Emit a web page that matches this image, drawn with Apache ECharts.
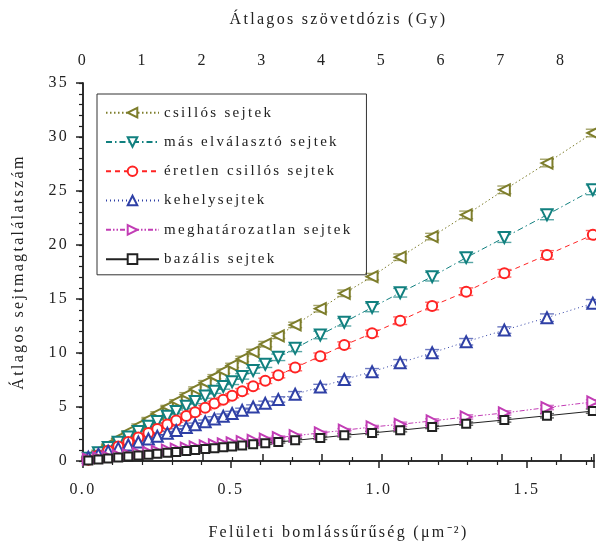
<!DOCTYPE html>
<html>
<head>
<meta charset="utf-8">
<script src="https://cdn.jsdelivr.net/npm/echarts@6/dist/echarts.min.js"></script>
<style>
  html, body { margin: 0; padding: 0; background: #fff; }
  #main { width: 596px; height: 542px; }
</style>
</head>
<body>
<div id="main"></div>
<script>
// felületi bomlássűrűség (µm^-2), shared by all series
var xValues = [0.018, 0.052, 0.085, 0.119, 0.153, 0.187, 0.221, 0.251, 0.285, 0.315, 0.349, 0.379, 0.413, 0.444, 0.474, 0.504, 0.538, 0.575, 0.616, 0.66, 0.717, 0.802, 0.883, 0.977, 1.072, 1.18, 1.295, 1.424, 1.568, 1.723];

// átlagos sejtmagtalálatszám
var csillos       = [0.32, 0.91, 1.49, 2.09, 2.69, 3.28, 3.88, 4.41, 5.0, 5.53, 6.13, 6.66, 7.25, 7.8, 8.32, 8.85, 9.45, 10.1, 10.82, 11.59, 12.6, 14.1, 15.53, 17.07, 18.87, 20.78, 22.79, 25.11, 27.59, 30.37];
var masElvalaszto = [0.26, 0.76, 1.24, 1.73, 2.23, 2.72, 3.22, 3.65, 4.15, 4.58, 5.08, 5.51, 6.01, 6.46, 6.9, 7.33, 7.83, 8.37, 8.96, 9.6, 10.43, 11.67, 12.85, 14.22, 15.58, 17.07, 18.83, 20.69, 22.79, 25.11];
var eretlen       = [0.12, 0.53, 0.94, 1.35, 1.77, 2.18, 2.6, 2.96, 3.38, 3.74, 4.16, 4.52, 4.94, 5.32, 5.68, 6.05, 6.46, 6.92, 7.42, 7.95, 8.65, 9.7, 10.73, 11.82, 12.99, 14.35, 15.68, 17.38, 19.08, 20.94];
var kehely        = [0.35, 0.63, 0.91, 1.19, 1.48, 1.76, 2.04, 2.29, 2.58, 2.83, 3.11, 3.36, 3.64, 3.9, 4.15, 4.4, 4.69, 5.0, 5.34, 5.7, 6.18, 6.85, 7.55, 8.26, 9.09, 10.02, 11.04, 12.12, 13.27, 14.6];
var meghat        = [0.18, 0.28, 0.38, 0.49, 0.59, 0.7, 0.81, 0.9, 1.0, 1.1, 1.2, 1.3, 1.4, 1.5, 1.59, 1.68, 1.79, 1.9, 2.03, 2.17, 2.34, 2.6, 2.85, 3.15, 3.4, 3.71, 4.08, 4.45, 4.95, 5.47];
var bazalis       = [0.05, 0.14, 0.23, 0.32, 0.41, 0.5, 0.59, 0.67, 0.76, 0.84, 0.93, 1.01, 1.1, 1.19, 1.27, 1.35, 1.44, 1.54, 1.64, 1.76, 1.91, 2.14, 2.38, 2.6, 2.85, 3.15, 3.46, 3.8, 4.19, 4.62];

// hibák (±)
var csillosErr       = [0.1, 0.1, 0.1, 0.1, 0.1, 0.15, 0.15, 0.15, 0.15, 0.15, 0.2, 0.2, 0.2, 0.2, 0.2, 0.2, 0.25, 0.25, 0.25, 0.25, 0.25, 0.3, 0.3, 0.3, 0.3, 0.3, 0.35, 0.35, 0.35, 0.35];
var masElvalasztoErr = [0.1, 0.1, 0.1, 0.1, 0.1, 0.15, 0.15, 0.15, 0.15, 0.15, 0.2, 0.2, 0.2, 0.2, 0.25, 0.25, 0.25, 0.25, 0.3, 0.3, 0.3, 0.35, 0.35, 0.4, 0.4, 0.4, 0.45, 0.45, 0.45, 0.45];
var eretlenErr       = [0.1, 0.1, 0.1, 0.1, 0.1, 0.1, 0.15, 0.15, 0.15, 0.15, 0.15, 0.2, 0.2, 0.2, 0.2, 0.2, 0.25, 0.25, 0.25, 0.25, 0.3, 0.3, 0.3, 0.3, 0.35, 0.35, 0.35, 0.35, 0.4, 0.4];
var kehelyErr        = [0.1, 0.1, 0.1, 0.1, 0.1, 0.1, 0.1, 0.15, 0.15, 0.15, 0.15, 0.15, 0.15, 0.2, 0.2, 0.2, 0.2, 0.2, 0.2, 0.25, 0.25, 0.25, 0.25, 0.3, 0.3, 0.3, 0.3, 0.3, 0.35, 0.35];
var meghatErr        = [0.05, 0.05, 0.05, 0.05, 0.05, 0.05, 0.05, 0.1, 0.1, 0.1, 0.1, 0.1, 0.1, 0.1, 0.1, 0.1, 0.1, 0.15, 0.15, 0.15, 0.15, 0.15, 0.15, 0.15, 0.2, 0.2, 0.2, 0.2, 0.2, 0.2];
var bazalisErr       = [0.05, 0.05, 0.05, 0.05, 0.05, 0.05, 0.05, 0.05, 0.1, 0.1, 0.1, 0.1, 0.1, 0.1, 0.1, 0.1, 0.1, 0.1, 0.1, 0.1, 0.15, 0.15, 0.15, 0.15, 0.15, 0.15, 0.15, 0.2, 0.2, 0.2];

var seriesNames = ["csillós sejtek", "más elválasztó sejtek", "éretlen csillós sejtek", "kehelysejtek", "meghatározatlan sejtek", "bazális sejtek"];

// the original figure uses loosely spaced lettering
var spacing = "2.3px";
var origFill = CanvasRenderingContext2D.prototype.fillText;
var origMeasure = CanvasRenderingContext2D.prototype.measureText;
CanvasRenderingContext2D.prototype.fillText = function () {
  this.letterSpacing = spacing;
  return origFill.apply(this, arguments);
};
CanvasRenderingContext2D.prototype.measureText = function () {
  this.letterSpacing = spacing;
  return origMeasure.apply(this, arguments);
};

function pairs(ys) {
  return ys.map(function (y, i) { return [xValues[i], y]; });
}

var fontFamily = "Liberation Serif";
var textColor = "#222";

var chartDom = document.getElementById("main");
var myChart = echarts.init(chartDom, null, { renderer: "canvas" });

function lineSeries(name, data, color, lineType, symbol, rotate, size) {
  return {
    name: name,
    type: "line",
    z: 3,
    data: pairs(data),
    symbol: symbol,
    symbolSize: size,
    symbolRotate: rotate,
    showAllSymbol: true,
    animation: false,
    lineStyle: { color: color, width: 1, type: lineType },
    itemStyle: { color: color, borderColor: color, borderWidth: 2 },
  };
}

// vertical error bars with caps
function errorSeries(name, data, errs, color) {
  return {
    name: name + " (hiba)",
    type: "custom",
    z: 2,
    animation: false,
    encode: { x: 0, y: 1 },
    data: data.map(function (y, i) { return [xValues[i], y, errs[i]]; }),
    renderItem: function (params, api) {
      var x = api.value(0), y = api.value(1), e = api.value(2);
      var top = api.coord([x, y + e]);
      var bottom = api.coord([x, y - e]);
      var w = 7;
      var style = { stroke: color, lineWidth: 1.4, opacity: 0.7 };
      return {
        type: "group",
        children: [
          { type: "line", shape: { x1: top[0], y1: top[1], x2: bottom[0], y2: bottom[1] }, style: style },
          { type: "line", shape: { x1: top[0] - w, y1: top[1], x2: top[0] + w, y2: top[1] }, style: style },
          { type: "line", shape: { x1: bottom[0] - w, y1: bottom[1], x2: bottom[0] + w, y2: bottom[1] }, style: style },
        ],
      };
    },
  };
}

var colors = ["#7d7d2b", "#11807f", "#ff2323", "#2f40a6", "#c23db5", "#222222"];

var series = [
  errorSeries(seriesNames[0], csillos, csillosErr, colors[0]),
  errorSeries(seriesNames[1], masElvalaszto, masElvalasztoErr, colors[1]),
  errorSeries(seriesNames[2], eretlen, eretlenErr, colors[2]),
  errorSeries(seriesNames[3], kehely, kehelyErr, colors[3]),
  errorSeries(seriesNames[4], meghat, meghatErr, colors[4]),
  errorSeries(seriesNames[5], bazalis, bazalisErr, colors[5]),
  lineSeries(seriesNames[0], csillos, colors[0], [1.5, 2.5], "emptyTriangle", 90, 11),
  lineSeries(seriesNames[1], masElvalaszto, colors[1], [6, 3, 1.5, 3], "emptyTriangle", 180, 11),
  lineSeries(seriesNames[2], eretlen, colors[2], [5, 4], "emptyCircle", 0, 10),
  lineSeries(seriesNames[3], kehely, colors[3], [1, 3], "emptyTriangle", 0, 11),
  lineSeries(seriesNames[4], meghat, colors[4], [5, 2, 1.5, 2, 1.5, 2], "emptyTriangle", -90, 11),
  lineSeries(seriesNames[5], bazalis, colors[5], "solid", "emptyRect", 0, 8),
];

var labelStyle = { fontFamily: fontFamily, fontSize: 16, color: textColor };
var nameStyle = { fontFamily: fontFamily, fontSize: 16, color: textColor };

var option = {
  backgroundColor: "#fff",
  animation: false,
  grid: { left: 83, right: 2, top: 83, bottom: 81, outerBoundsMode: "none", containLabel: false },
  legend: {
    data: seriesNames,
    orient: "vertical",
    left: 97,
    top: 94,
    itemWidth: 53,
    itemHeight: 12,
    itemGap: 12,
    padding: [10, 14, 7, 8],
    borderColor: "#333",
    borderWidth: 1,
    textStyle: { fontFamily: fontFamily, fontSize: 15, color: textColor },
  },
  xAxis: [
    {
      type: "value",
      position: "bottom",
      min: 0,
      max: 1.727,
      interval: 0.5,
      name: "Felületi bomlássűrűség (μm⁻²)",
      nameLocation: "middle",
      nameGap: 63,
      nameTextStyle: nameStyle,
      splitLine: { show: false },
      axisLine: { lineStyle: { color: "#222", width: 1.5 } },
      axisTick: { length: 7, lineStyle: { color: "#222", width: 1.5 } },
      minorTick: { show: true, splitNumber: 5, length: 4, lineStyle: { color: "#222", width: 1.2 } },
      axisLabel: Object.assign({ margin: 20, showMaxLabel: false, formatter: function (v) { return v.toFixed(1); } }, labelStyle),
    },
    {
      type: "value",
      position: "top",
      min: 0,
      max: 8.55,
      interval: 1,
      name: "Átlagos szövetdózis (Gy)",
      nameLocation: "middle",
      nameGap: 54,
      nameTextStyle: nameStyle,
      splitLine: { show: false },
      axisLine: { lineStyle: { color: "#222", width: 1.5 } },
      axisTick: { length: 7, lineStyle: { color: "#222", width: 1.5 } },
      minorTick: { show: true, splitNumber: 2, length: 4, lineStyle: { color: "#222", width: 1.2 } },
      axisLabel: Object.assign({ margin: 13, showMaxLabel: false }, labelStyle),
    },
  ],
  yAxis: [
    {
      type: "value",
      position: "left",
      min: 0,
      max: 35,
      interval: 5,
      name: "Átlagos sejtmagtalálatszám",
      nameLocation: "middle",
      nameGap: 55,
      nameTextStyle: nameStyle,
      splitLine: { show: false },
      axisLine: { show: true, lineStyle: { color: "#222", width: 1.5 } },
      axisTick: { show: true, length: 7, lineStyle: { color: "#222", width: 1.5 } },
      minorTick: { show: true, splitNumber: 5, length: 4, lineStyle: { color: "#222", width: 1.2 } },
      axisLabel: Object.assign({ margin: 14 }, labelStyle),
    },
    {
      type: "value",
      position: "right",
      min: 0,
      max: 35,
      interval: 5,
      splitLine: { show: false },
      axisLine: { show: true, lineStyle: { color: "#222", width: 1.5 } },
      axisTick: { show: true, inside: true, length: 4, lineStyle: { color: "#222", width: 1.2 } },
      minorTick: { show: true, splitNumber: 5, length: 2, lineStyle: { color: "#222", width: 1 } },
      axisLabel: { show: false },
    },
  ],
  series: series,
};

option && myChart.setOption(option);
</script>
</body>
</html>
